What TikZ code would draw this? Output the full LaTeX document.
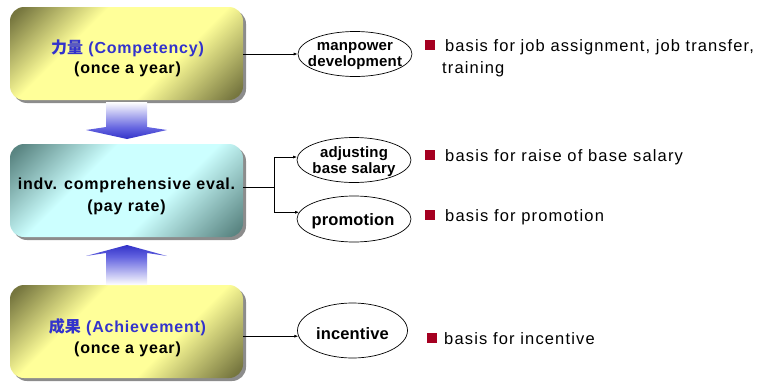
\documentclass[tikz,border=0pt]{standalone}
\usepackage{fontspec}
\setmainfont{Liberation Sans}
\newfontfamily\boxfont{Liberation Sans}[LetterSpace=5]
\newfontfamily\ellfont{Liberation Sans}[LetterSpace=1]
\newfontfamily\bulfont{Liberation Sans}[LetterSpace=7]
\newfontfamily\cjkfont{Noto Sans CJK SC}
\usetikzlibrary{shadows,shapes.geometric,arrows.meta}
\definecolor{olv}{HTML}{76763F}
\definecolor{lyel}{HTML}{FFFF99}
\definecolor{teald}{HTML}{5A8582}
\definecolor{lcyan}{HTML}{CCFFFF}
\definecolor{abl}{HTML}{3232C8}
\definecolor{abm}{HTML}{6464E0}
\definecolor{txtblue}{HTML}{3333CC}
\definecolor{bulred}{HTML}{A50021}
\pgfdeclarehorizontalshading{yelsh}{100bp}{color(0bp)=(olv); color(17bp)=(olv); color(36bp)=(lyel); color(62bp)=(lyel); color(83bp)=(olv); color(100bp)=(olv)}
\pgfdeclarehorizontalshading{cyansh}{100bp}{color(0bp)=(teald); color(17bp)=(teald); color(38bp)=(lcyan); color(60bp)=(lcyan); color(83bp)=(teald); color(100bp)=(teald)}
\pgfdeclareverticalshading{arrsh}{100bp}{color(0bp)=(abl); color(25bp)=(abl); color(40bp)=(abm); color(75bp)=(white); color(100bp)=(white)}
\tikzset{
  bigbox/.style={rounded corners=14pt, minimum width=233pt, minimum height=93pt, inner sep=0pt,
    drop shadow={shadow xshift=3pt, shadow yshift=-3pt, fill=black!45, opacity=1}},
  yelbox/.style={bigbox, shading=yelsh, shading angle=-45},
  cyanbox/.style={bigbox, shading=cyansh, shading angle=-45},
  boxtxt/.style={anchor=base, inner sep=0pt, font=\boxfont\bfseries\fontsize{16}{20}\selectfont},
  ell/.style={draw=black, line width=0.7pt, ellipse, minimum width=114pt, minimum height=45pt, inner sep=0pt},
  elltwo/.style={anchor=base, inner sep=0pt, font=\ellfont\bfseries\fontsize{15}{16}\selectfont},
  ellone/.style={anchor=base, inner sep=0pt, font=\ellfont\bfseries\fontsize{16.5}{18}\selectfont},
  conn/.style={draw=black, line width=0.7pt, -{Latex[length=4pt,width=3pt]}},
  bul/.style={fill=bulred, minimum size=10pt, inner sep=0pt, anchor=south west},
  bultxt/.style={anchor=base west, inner sep=0pt, font=\bulfont\fontsize{16.5}{20}\selectfont},
}
\begin{document}
\begin{tikzpicture}[x=1pt, y=-1pt]
\useasboundingbox (0,0) rectangle (769,383);
% boxes
\node[yelbox] (box1) at (126.5,53.5) {};
\node[cyanbox] (box2) at (126.5,190.5) {};
\node[yelbox] (box3) at (126.5,331.5) {};
% box texts
\node[boxtxt, text=txtblue] (t1a) at (127.5,53) {{\cjkfont 力量}\ (Competency)};
\node[boxtxt] (t1b) at (127.5,73) {(once a year)};
\node[boxtxt] (t2a) at (126.5,189) {indv. comprehensive eval.};
\node[boxtxt] (t2b) at (126.5,211) {(pay rate)};
\node[boxtxt, text=txtblue] (t3a) at (127.5,332) {{\cjkfont 成果}\ (Achievement)};
\node[boxtxt] (t3b) at (127.5,353) {(once a year)};
% block arrows
\shade[shading=arrsh] (106,102) -- (147,102) -- (147,127) -- (167,130) -- (127,139) -- (86,130) -- (106,127) -- cycle;
\shade[shading=arrsh, shading angle=180] (127,245) -- (167,256) -- (147,253) -- (147,285) -- (106,285) -- (106,253) -- (86,256) -- cycle;
% ellipses
\node[ell] (e1) at (355,54) {};
\node[ell] (e2) at (354,160) {};
\node[ell, minimum height=46pt] (e3) at (354,219) {};
\node[ell, minimum width=110pt, minimum height=55pt] (e4) at (352.5,330.5) {};
% ellipse texts
\node[elltwo] (l1a) at (355,50) {manpower};
\node[elltwo] (l1b) at (355,66) {development};
\node[elltwo] (l2a) at (354,157) {adjusting};
\node[elltwo] (l2b) at (354,173) {base salary};
\node[ellone] (l3) at (353,225.5) {promotion};
\node[ellone] (l4) at (352.5,339) {incentive};
% connectors
\draw[conn] (box1.east |- e1.west) -- (e1.west);
\coordinate (split) at (274,187);
\draw[line width=0.7pt] (box2.east |- split) -- (split);
\draw[conn] (split) |- (e2.177);
\draw[conn] (split) |- (e3.173);
\draw[conn] (box3.east |- e4.186) -- (e4.186);
% bullets
\node[bul] (s1) at (425,50) {};
\node[bultxt] (b1a) at (445,51) {\addfontfeature{LetterSpace=6.5}basis for job assignment, job transfer,};
\node[bultxt] (b1b) at (442,73) {training};
\node[bul] (s2) at (425,160) {};
\node[bultxt] (b2) at (445,161) {basis for raise of base salary};
\node[bul] (s3) at (425,220) {};
\node[bultxt] (b3) at (445,221) {basis for promotion};
\node[bul] (s4) at (427,343) {};
\node[bultxt] (b4) at (444,344) {basis for incentive};
\end{tikzpicture}
\end{document}
